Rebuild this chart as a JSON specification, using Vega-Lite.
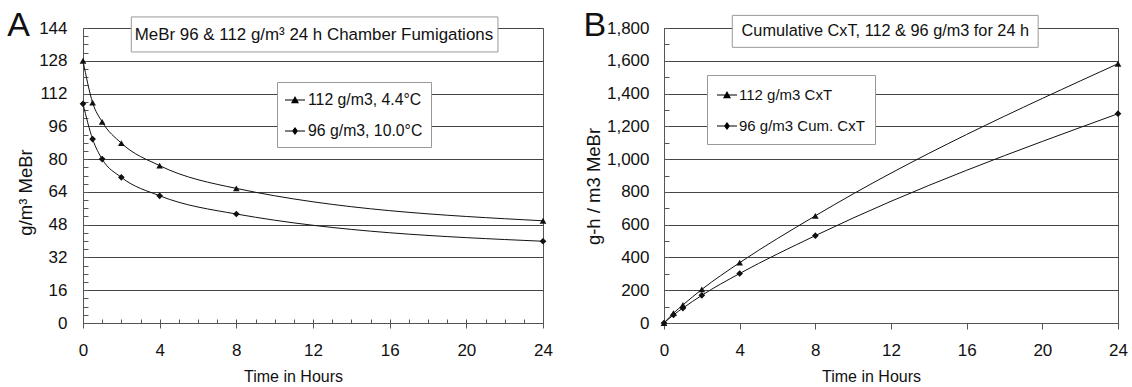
{
  "$schema": "https://vega.github.io/schema/vega-lite/v6.json",
  "background": "white",
  "padding": {"left": 6, "top": 8, "right": 5, "bottom": 0},
  "spacing": 28,
  "config": {
    "font": "Liberation Sans",
    "view": {"stroke": "#555", "strokeWidth": 1},
    "axis": {
      "labelFont": "Liberation Sans", "labelFontSize": 17, "labelColor": "#111",
      "titleFont": "Liberation Sans", "titleFontWeight": "normal", "titleColor": "#111",
      "domainColor": "#555", "tickColor": "#555", "gridColor": "#444", "gridOpacity": 1,
      "labelFlush": false, "labelOverlap": false
    },
    "legend": {
      "labelFont": "Liberation Sans", "labelColor": "#111",
      "strokeColor": "#999", "fillColor": "white", "symbolSize": 400,
      "symbolStrokeWidth": 0, "symbolFillColor": "black", "symbolOpacity": 1
    }
  },
  "resolve": {"scale": {"shape": "independent"}, "legend": {"shape": "independent"}},
  "datasets": {
    "conc": [
      {"series": "112 g/m3, 4.4°C", "hours": 0, "gm3": 128},
      {"series": "112 g/m3, 4.4°C", "hours": 0.5, "gm3": 107.6},
      {"series": "112 g/m3, 4.4°C", "hours": 1, "gm3": 98.2},
      {"series": "112 g/m3, 4.4°C", "hours": 2, "gm3": 87.8},
      {"series": "112 g/m3, 4.4°C", "hours": 4, "gm3": 76.8},
      {"series": "112 g/m3, 4.4°C", "hours": 8, "gm3": 65.7},
      {"series": "112 g/m3, 4.4°C", "hours": 24, "gm3": 49.9},
      {"series": "96 g/m3, 10.0°C", "hours": 0, "gm3": 107},
      {"series": "96 g/m3, 10.0°C", "hours": 0.5, "gm3": 89.8},
      {"series": "96 g/m3, 10.0°C", "hours": 1, "gm3": 80},
      {"series": "96 g/m3, 10.0°C", "hours": 2, "gm3": 71.1},
      {"series": "96 g/m3, 10.0°C", "hours": 4, "gm3": 62.1},
      {"series": "96 g/m3, 10.0°C", "hours": 8, "gm3": 53.2},
      {"series": "96 g/m3, 10.0°C", "hours": 24, "gm3": 39.9}
    ],
    "cxt": [
      {"series": "112 g/m3 CxT", "hours": 0, "cxt": 0},
      {"series": "112 g/m3 CxT", "hours": 0.5, "cxt": 60},
      {"series": "112 g/m3 CxT", "hours": 1, "cxt": 110},
      {"series": "112 g/m3 CxT", "hours": 2, "cxt": 205},
      {"series": "112 g/m3 CxT", "hours": 4, "cxt": 368},
      {"series": "112 g/m3 CxT", "hours": 8, "cxt": 654},
      {"series": "112 g/m3 CxT", "hours": 24, "cxt": 1582},
      {"series": "96 g/m3 Cum. CxT", "hours": 0, "cxt": 0},
      {"series": "96 g/m3 Cum. CxT", "hours": 0.5, "cxt": 49},
      {"series": "96 g/m3 Cum. CxT", "hours": 1, "cxt": 91},
      {"series": "96 g/m3 Cum. CxT", "hours": 2, "cxt": 169},
      {"series": "96 g/m3 Cum. CxT", "hours": 4, "cxt": 302},
      {"series": "96 g/m3 Cum. CxT", "hours": 8, "cxt": 533},
      {"series": "96 g/m3 Cum. CxT", "hours": 24, "cxt": 1277}
    ]
  },
  "hconcat": [
    {
      "width": 460,
      "height": 295,
      "layer": [
        {
          "data": {"values": [{"heading": "MeBr 96 & 112 g/m³ 24 h Chamber Fumigations"}]},
          "mark": {"type": "rect", "fill": "white", "stroke": "#999", "strokeWidth": 1},
          "encoding": {
            "x": {"datum": 2.52, "type": "quantitative", "scale": {"domain": [0, 24], "nice": false}, "axis": null},
            "x2": {"datum": 21.65},
            "y": {"datum": 149.4, "type": "quantitative", "scale": {"domain": [0, 144], "nice": false}, "axis": null},
            "y2": {"datum": 132.3}
          }
        },
        {
          "data": {"values": [{"heading": "MeBr 96 & 112 g/m³ 24 h Chamber Fumigations"}]},
          "mark": {"type": "text", "fontSize": 16.9, "color": "#111", "align": "center", "baseline": "middle"},
          "encoding": {
            "x": {"datum": 12.05, "type": "quantitative", "scale": {"domain": [0, 24], "nice": false}, "axis": null},
            "y": {"datum": 140.8, "type": "quantitative", "scale": {"domain": [0, 144], "nice": false}, "axis": null},
            "text": {"field": "heading"}
          }
        },
        {
          "data": {"values": [{"panel": "A"}]},
          "mark": {"type": "text", "fontSize": 34, "color": "#111", "align": "left", "baseline": "alphabetic"},
          "encoding": {
            "x": {"datum": -3.95, "type": "quantitative", "scale": {"domain": [0, 24], "nice": false}, "axis": null},
            "y": {"datum": 140.1, "type": "quantitative", "scale": {"domain": [0, 144], "nice": false}, "axis": null},
            "text": {"field": "panel"}
          }
        },
        {
          "data": {"name": "conc"},
          "mark": {"type": "line", "interpolate": "monotone", "color": "#111", "strokeWidth": 1},
          "encoding": {
            "x": {"field": "hours", "type": "quantitative", "scale": {"domain": [0, 24], "nice": false},
              "axis": {"orient": "bottom", "values": [0,4,8,12,16,20,24], "tickSize": 5, "labelPadding": 14, "grid": false,
                "title": "Time in Hours", "titleFontSize": 16, "titlePadding": 10, "titleX": 210}},
            "y": {"field": "gm3", "type": "quantitative", "scale": {"domain": [0, 144], "nice": false},
              "axis": {"orient": "left", "values": [0,16,32,48,64,80,96,112,128,144], "ticks": false, "labelPadding": 16, "grid": true,
                "title": "g/m³ MeBr", "titleFontSize": 18.5, "titlePadding": 3, "titleY": 164}},
            "detail": {"field": "series"}
          }
        },
        {
          "data": {"name": "conc"},
          "mark": {"type": "point", "filled": true, "color": "#111", "size": 45, "opacity": 1},
          "encoding": {
            "x": {"field": "hours", "type": "quantitative", "scale": {"domain": [0, 24], "nice": false},
              "axis": {"orient": "bottom", "values": [0,1,2,3,4,5,6,7,8,9,10,11,12,13,14,15,16,17,18,19,20,21,22,23,24],
                "offset": -4, "tickSize": 4, "labels": false, "domain": false, "grid": false, "title": null}},
            "y": {"field": "gm3", "type": "quantitative", "scale": {"domain": [0, 144], "nice": false},
              "axis": {"orient": "left", "values": [0,4,8,12,16,20,24,28,32,36,40,44,48,52,56,60,64,68,72,76,80,84,88,92,96,100,104,108,112,116,120,124,128,132,136,140,144],
                "offset": -5, "tickSize": 5, "labels": false, "domain": false, "grid": false, "title": null}},
            "shape": {"field": "series", "type": "nominal",
              "scale": {"domain": ["112 g/m3, 4.4°C", "96 g/m3, 10.0°C"], "range": ["triangle-up", "diamond"]},
              "legend": null}
          }
        },
        {
          "data": {"name": "conc"},
          "mark": {"type": "point", "filled": true, "color": "black", "size": 400, "opacity": 0},
          "encoding": {
            "x": {"field": "hours", "type": "quantitative", "scale": {"domain": [0, 24], "nice": false}, "axis": null},
            "y": {"field": "gm3", "type": "quantitative", "scale": {"domain": [0, 144], "nice": false}, "axis": null},
            "shape": {"field": "series", "type": "nominal",
              "scale": {"domain": ["112 g/m3, 4.4°C", "96 g/m3, 10.0°C"],
                "range": ["M-1,-0.06L1,-0.06L1,0.06L-1,0.06ZM-0.4,0.32L0,-0.4L0.4,0.32Z", "M-1,-0.06L1,-0.06L1,0.06L-1,0.06ZM0,-0.4L0.3,0L0,0.4L-0.3,0Z"]},
              "legend": {"orient": "none", "legendX": 194, "legendY": 54, "title": null, "padding": 8, "rowPadding": 13,
                "labelFontSize": 15.8, "labelOffset": 3, "symbolOpacity": 1, "symbolFillColor": "black"}}
          }
        }
      ],
      "resolve": {"axis": {"x": "independent", "y": "independent"}, "scale": {"shape": "independent"}}
    },
    {
      "width": 454,
      "height": 295,
      "layer": [
        {
          "data": {"values": [{"heading": "Cumulative CxT, 112 & 96 g/m3 for 24 h"}]},
          "mark": {"type": "rect", "fill": "white", "stroke": "#999", "strokeWidth": 1},
          "encoding": {
            "x": {"datum": 3.61, "type": "quantitative", "scale": {"domain": [0, 24], "nice": false}},
            "x2": {"datum": 19.78},
            "y": {"datum": 1877, "type": "quantitative", "scale": {"domain": [0, 1800], "nice": false}, "axis": null},
            "y2": {"datum": 1682}
          }
        },
        {
          "data": {"values": [{"heading": "Cumulative CxT, 112 & 96 g/m3 for 24 h"}]},
          "mark": {"type": "text", "fontSize": 16.3, "color": "#111", "align": "center", "baseline": "middle"},
          "encoding": {
            "x": {"datum": 11.7, "type": "quantitative", "scale": {"domain": [0, 24], "nice": false}},
            "y": {"datum": 1780, "type": "quantitative", "scale": {"domain": [0, 1800], "nice": false}, "axis": null},
            "text": {"field": "heading"}
          }
        },
        {
          "data": {"values": [{"panel": "B"}]},
          "mark": {"type": "text", "fontSize": 34, "color": "#111", "align": "left", "baseline": "alphabetic"},
          "encoding": {
            "x": {"datum": -4.26, "type": "quantitative", "scale": {"domain": [0, 24], "nice": false}},
            "y": {"datum": 1749, "type": "quantitative", "scale": {"domain": [0, 1800], "nice": false}, "axis": null},
            "text": {"field": "panel"}
          }
        },
        {
          "data": {"name": "cxt"},
          "mark": {"type": "line", "interpolate": "monotone", "color": "#111", "strokeWidth": 1},
          "encoding": {
            "x": {"field": "hours", "type": "quantitative", "scale": {"domain": [0, 24], "nice": false},
              "axis": {"orient": "bottom", "values": [0,4,8,12,16,20,24], "tickSize": 6, "labelPadding": 13, "grid": false,
                "title": "Time in Hours", "titleFontSize": 16, "titlePadding": 10, "titleX": 207}},
            "y": {"field": "cxt", "type": "quantitative", "scale": {"domain": [0, 1800], "nice": false},
              "axis": {"orient": "left", "values": [0,200,400,600,800,1000,1200,1400,1600,1800], "format": ",.0f", "ticks": false, "labelPadding": 15, "grid": true,
                "title": "g-h / m3 MeBr", "titleFontSize": 18.5, "titlePadding": 3, "titleY": 158}},
            "detail": {"field": "series"}
          }
        },
        {
          "data": {"name": "cxt"},
          "mark": {"type": "point", "filled": true, "color": "#111", "size": 45, "opacity": 1},
          "encoding": {
            "x": {"field": "hours", "type": "quantitative", "scale": {"domain": [0, 24], "nice": false}},
            "y": {"field": "cxt", "type": "quantitative", "scale": {"domain": [0, 1800], "nice": false},
              "axis": {"orient": "left", "values": [0,100,200,300,400,500,600,700,800,900,1000,1100,1200,1300,1400,1500,1600,1700,1800],
                "offset": -5, "tickSize": 5, "labels": false, "domain": false, "grid": false, "title": null}},
            "shape": {"field": "series", "type": "nominal",
              "scale": {"domain": ["112 g/m3 CxT", "96 g/m3 Cum. CxT"], "range": ["triangle-up", "diamond"]},
              "legend": null}
          }
        },
        {
          "data": {"name": "cxt"},
          "mark": {"type": "point", "filled": true, "color": "black", "size": 400, "opacity": 0},
          "encoding": {
            "x": {"field": "hours", "type": "quantitative", "scale": {"domain": [0, 24], "nice": false}},
            "y": {"field": "cxt", "type": "quantitative", "scale": {"domain": [0, 1800], "nice": false}, "axis": null},
            "shape": {"field": "series", "type": "nominal",
              "scale": {"domain": ["112 g/m3 CxT", "96 g/m3 Cum. CxT"],
                "range": ["M-1,-0.06L1,-0.06L1,0.06L-1,0.06ZM-0.4,0.32L0,-0.4L0.4,0.32Z", "M-1,-0.06L1,-0.06L1,0.06L-1,0.06ZM0,-0.4L0.3,0L0,0.4L-0.3,0Z"]},
              "legend": {"orient": "none", "legendX": 43, "legendY": 47, "title": null, "padding": 10, "rowPadding": 13,
                "labelFontSize": 15, "labelOffset": 2, "symbolOpacity": 1, "symbolFillColor": "black"}}
          }
        }
      ],
      "resolve": {"axis": {"y": "independent"}, "scale": {"shape": "independent"}}
    }
  ]
}
